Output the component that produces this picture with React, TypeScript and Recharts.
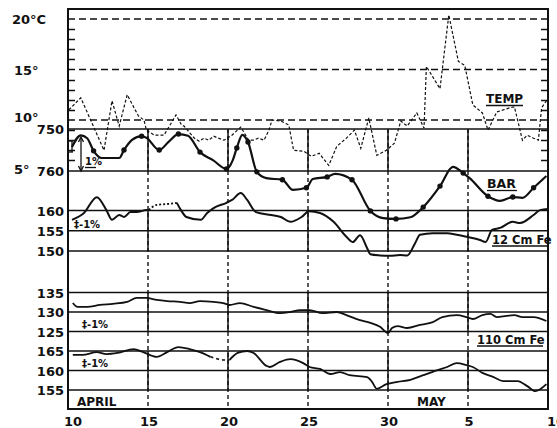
import React from "react";
import {
  ComposedChart,
  Line,
  Scatter,
  XAxis,
  YAxis,
  ReferenceLine,
  ReferenceArea,
} from "recharts";

// x = days counted from 10 April (0) to 10 May (30)
const xTicks = [0, 5, 10, 15, 20, 25, 30];
const xTickLabels = ["10", "15", "20", "25", "30", "5", "10"];
const gridDays = [5, 10, 15, 20, 25];

type Pt = [number, number | null];

// air temperature, deg C
const temp: Pt[] = [
  [0.05, 11.0], [0.8, 12.2], [2.25, 7.0], [2.75, 11.9], [3.2, 9.4], [3.7, 12.5],
  [4.4, 10.4], [4.75, 10.0], [4.9, 9.0], [5.4, 8.5], [6.0, 8.5], [6.75, 10.5],
  [7.1, 9.5], [7.25, 9.4], [7.9, 8.2], [8.2, 7.9], [8.5, 8.2], [8.8, 8.0],
  [9.1, 8.4], [9.4, 8.2], [9.75, 8.0], [10.25, 8.5], [10.8, 9.3], [11.1, 8.5],
  [11.3, 8.0], [11.6, 8.0], [11.9, 8.2], [12.25, 8.0], [12.56, 9.0], [12.75, 10.0],
  [13.3, 9.9], [13.8, 9.5], [14.1, 7.0], [14.75, 6.9], [15.2, 6.4], [15.7, 6.7],
  [16.3, 5.5], [16.8, 7.4], [17.4, 8.2], [17.9, 9.0], [18.3, 7.2], [18.8, 10.2],
  [19.3, 6.5], [19.9, 7.0], [20.4, 7.7], [20.8, 9.9], [21.2, 9.4], [21.8, 10.7],
  [22.25, 9.2], [22.4, 15.3], [23.25, 13.1], [23.8, 20.4], [24.4, 15.8], [24.8, 15.4],
  [25.3, 11.5], [25.9, 10.7], [26.25, 9.0], [26.8, 10.8], [27.6, 11.2], [27.9, 11.3],
  [28.1, 10.0], [28.4, 8.0], [28.7, 8.5], [29.1, 8.2], [29.4, 8.0], [29.6, 11.2],
  [29.9, 11.9],
];

// barometer, mm (750 at top, 760 below)
const bar: Pt[] = [
  [0.25, 754.3], [0.8, 751.5], [1.2, 752.2], [1.6, 755.2], [2.1, 756.9], [2.8, 756.9],
  [3.2, 756.9], [3.5, 755.0], [4.0, 752.6], [4.6, 751.7], [4.9, 752.1], [5.7, 755.0],
  [6.3, 753.0], [6.9, 751.2], [7.5, 751.6], [8.25, 755.5], [9.06, 757.4], [9.9, 759.5],
  [10.3, 757.4], [10.55, 754.5], [10.9, 751.4], [11.25, 753.1], [11.8, 760.2], [12.4, 761.7],
  [13.4, 762.1], [14.06, 764.5], [14.9, 764.0], [15.3, 761.9], [16.2, 761.4], [16.7, 760.7],
  [17.75, 762.1], [18.9, 769.5], [19.7, 771.2], [20.5, 771.4], [21.4, 771.0], [22.2, 768.6],
  [23.25, 763.6], [24.06, 759.0], [24.7, 760.5], [25.1, 761.7], [26.25, 766.0], [27.0, 767.1],
  [27.8, 766.2], [28.4, 766.4], [29.1, 764.0], [29.9, 761.2],
];
const barDotDays = [
  1.6, 3.5, 4.6, 5.7, 6.9, 8.25, 9.9, 10.55, 11.25, 11.8, 13.4, 14.9, 16.2, 17.75,
  18.9, 20.5, 22.2, 23.25, 24.7, 26.25, 27.8, 29.1,
];

// 12 cm Fe counter
const fe12: Pt[] = [
  [0.25, 157.7], [1.0, 159.4], [1.8, 163.3], [2.4, 160.1], [2.75, 157.7], [3.2, 158.9],
  [3.5, 158.4], [3.9, 159.6], [4.3, 159.6], [4.9, 160.1], [5.05, 160.1], [6.0, null],
  [6.8, 161.9], [7.06, 160.1], [7.4, 158.4], [8.3, 157.7], [8.7, 159.4], [9.1, 160.6],
  [9.9, 161.9], [10.25, 162.6], [10.8, 164.3], [11.2, 162.6], [11.75, 159.6], [12.7, 158.9],
  [13.3, 158.4], [13.9, 157.2], [14.6, 158.4], [15.06, 159.8], [15.75, 159.4], [16.6, 157.2],
  [17.4, 153.5], [17.8, 152.2], [18.25, 153.9], [18.7, 150.7], [18.9, 149.2], [19.5, 148.9],
  [20.1, 148.8], [20.75, 149.0], [21.2, 148.9], [21.7, 152.0], [22.0, 154.0], [22.8, 154.4],
  [23.7, 154.4], [24.3, 154.0], [24.9, 153.5], [25.75, 152.7], [26.1, 152.2], [26.5, 155.2],
  [27.0, 155.7], [27.8, 157.2], [28.25, 156.9], [29.1, 158.9], [29.5, 160.1], [30.0, 160.4],
];
const fe12Gap: Pt[] = [[5.05, 160.1], [5.55, 161.4], [6.2, 161.6], [6.8, 161.9]];

// 110 cm Fe counter
const fe110: Pt[] = [
  [0.3, 132.3], [0.6, 131.3], [1.2, 131.3], [2.0, 131.8], [2.8, 132.1], [3.7, 132.6],
  [4.3, 133.6], [4.9, 133.6], [5.55, 133.1], [6.2, 132.8], [7.0, 132.6], [7.6, 132.3],
  [8.25, 132.8], [9.1, 132.6], [9.7, 132.3], [10.1, 131.8], [10.75, 132.3], [11.6, 131.3],
  [12.4, 130.5], [13.25, 129.7], [13.9, 130.0], [14.5, 130.5], [15.1, 130.5], [15.9, 129.7],
  [16.8, 130.0], [17.4, 129.2], [18.25, 127.9], [18.9, 127.2], [19.5, 126.2], [20.0, 124.6],
  [20.25, 125.9], [20.6, 126.4], [21.2, 125.9], [22.0, 126.7], [22.8, 127.4], [23.4, 128.7],
  [24.3, 129.2], [24.9, 128.7], [25.3, 128.2], [25.9, 129.2], [26.4, 129.5], [26.8, 128.7],
  [27.4, 129.0], [27.9, 129.2], [28.4, 128.7], [29.1, 128.7], [29.9, 127.7],
];

// lowest trace
const low: Pt[] = [
  [0.3, 164.0], [0.9, 164.0], [1.8, 164.7], [2.4, 164.2], [3.1, 164.5], [4.1, 165.5],
  [4.7, 164.7], [5.55, 163.5], [6.2, 164.7], [6.9, 166.0], [7.6, 165.5], [8.25, 164.7],
  [8.9, 163.5], [9.4, null], [10.1, 162.7], [10.6, 164.5], [11.2, 165.0], [11.6, 164.5],
  [12.4, 161.2], [12.6, 160.9], [13.25, 162.2], [13.9, 162.9], [14.7, 161.9], [15.1, 160.9],
  [15.75, 160.4], [16.4, 159.1], [17.0, 159.6], [17.6, 158.8], [18.7, 158.3], [19.0, 157.1],
  [19.3, 155.3], [19.9, 156.5], [20.6, 157.1], [21.4, 157.6], [22.2, 158.8], [23.1, 160.1],
  [23.7, 160.9], [24.3, 161.9], [24.9, 161.4], [25.3, 160.9], [25.9, 159.4], [26.6, 158.3],
  [27.2, 157.3], [28.1, 157.3], [28.7, 156.0], [29.2, 154.7], [29.9, 156.5],
];
const lowGap: Pt[] = [[8.9, 163.5], [9.3, 163.0], [9.7, 162.7], [10.1, 162.7]];

const rows = (pts: Pt[], key: string) => pts.map(([day, v]) => ({ day, [key]: v }));

// chart frame (pixels)
const W = 557;
const H = 428;
const TOP = 9;
const BOTTOM = 409;
const LEFT = 68;
const RIGHT = 548;
const INK = "#111";
const FONT = "DejaVu Sans";

// each panel is calibrated by one value, its pixel row and pixels per unit
const span = (ref: number, refY: number, px: number): [number, number] => [
  ref - (BOTTOM - refY) / px,
  ref + (refY - TOP) / px,
];
const tempDomain = span(10, 120, 10.1);
const barDomain: [number, number] = [750 - (129 - TOP) / 4.2, 750 + (BOTTOM - 129) / 4.2];
const fe12Domain = span(160, 210.5, 4.05);
const fe110Domain = span(130, 312, 3.9);
const lowDomain = span(165, 351, 3.9);

const tempLabelTicks = [5, 10, 15, 20];
const tempMinorTicks = [6, 7, 8, 9, 11, 12, 13, 14, 16, 17, 18, 19];
const tempLabels: Record<number, string> = { 20: "20°C", 15: "15°", 10: "10°", 5: "5°" };
// same linear map as the temp axis, used for the small degree marks on the frame
const tempY = (t: number) =>
  Math.round(TOP + ((tempDomain[1] - t) / (tempDomain[1] - tempDomain[0])) * (BOTTOM - TOP)) + 0.5;

const txt = { fontFamily: FONT, fontWeight: 700, fill: INK } as const;

const TempTick = (props: any) => {
  const { y, payload } = props;
  const v = payload.value as number;
  const shift = v === 10 ? -3 : v === 5 ? -2 : 0;
  return (
    <text x={v === 20 ? 12 : 14} y={y + 5 + shift} fontSize={13} {...txt}>
      {tempLabels[v]}
    </text>
  );
};

const PanelTick = (props: any) => (
  <text x={64} y={props.y + 5} textAnchor="end" fontSize={13} {...txt}>
    {props.payload.value}
  </text>
);

const DayTick = (props: any) => {
  const { x, payload } = props;
  const i = xTicks.indexOf(payload.value);
  const first = i === 0;
  const last = i === xTicks.length - 1;
  return (
    <text
      x={first ? x + 5 : last ? x - 1 : x + 1}
      y={426}
      textAnchor={last ? "start" : "middle"}
      fontSize={13}
      {...txt}
    >
      {xTickLabels[i]}
    </text>
  );
};

const Underlined = ({ x, y, w, size, children }: any) => (
  <g>
    <text x={x} y={y} fontSize={size} {...txt}>
      {children}
    </text>
    <line x1={x} x2={x + w} y1={y + 2.5} y2={y + 2.5} stroke={INK} strokeWidth={1.3} />
  </g>
);

const Annotations = () => (
  <g>
    {tempMinorTicks.map((t) => (
      <path
        key={t}
        d={`M${LEFT} ${tempY(t)}h7M${RIGHT - 7} ${tempY(t)}h7`}
        stroke={INK}
        strokeWidth={1.6}
        fill="none"
      />
    ))}
    <Underlined x={486} y={103} w={37} size={12}>TEMP</Underlined>
    <Underlined x={487} y={188} w={30} size={12.5}>BAR</Underlined>
    <Underlined x={492} y={243.5} w={57} size={11.5}>12 Cm Fe</Underlined>
    <Underlined x={477} y={343.5} w={66} size={11.5}>110 Cm Fe</Underlined>
    <text x={77} y={406} fontSize={12} {...txt}>APRIL</text>
    <text x={417} y={406} fontSize={12} {...txt}>MAY</text>
    <text x={74} y={228} fontSize={10} {...txt}>‡-1%</text>
    <text x={82} y={328} fontSize={10} {...txt}>‡-1%</text>
    <text x={82} y={367} fontSize={10} {...txt}>‡-1%</text>
    {/* 1% bracket on the barometer panel */}
    <g stroke={INK} strokeWidth={1.3} fill="none">
      <line x1={81} x2={81} y1={138} y2={170} />
      <polyline points="78.5,142 81,137 83.5,142" />
      <polyline points="78.5,166 81,171 83.5,166" />
      <line x1={68} x2={73} y1={141} y2={141} />
      <line x1={72} x2={72} y1={141} y2={152} />
      <line x1={68} x2={73} y1={152} y2={152} />
      <line x1={85} x2={96} y1={167.5} y2={167.5} />
    </g>
    <text x={85} y={165} fontSize={10} {...txt}>1%</text>
  </g>
);

const panelLines: { id: string; values: number[] }[] = [
  { id: "bar", values: [750, 760] },
  { id: "fe12", values: [160, 155, 150] },
  { id: "fe110", values: [135, 130, 125] },
  { id: "low", values: [165, 160, 155] },
];

const solidBands: { id: string; from: number; to: number }[] = [
  { id: "bar", from: 750, to: 760 },
  { id: "fe12", from: 160, to: 150 },
  { id: "fe110", from: 135, to: 125 },
  { id: "low", from: 165, to: 155 },
];

// a YAxis with zero width is not drawn, so each one gets a single pixel
const axisW = 1;

export default function App() {
  const barDots = bar.filter(([d]) => barDotDays.includes(d));
  return (
    <div style={{ position: "absolute", left: 0, top: 0, background: "#fff" }}>
      <ComposedChart
        width={W}
        height={H}
        margin={{ top: TOP, right: W - RIGHT, bottom: 0, left: LEFT - 5 * axisW }}
      >
        <XAxis
          dataKey="day"
          type="number"
          domain={[0, 30]}
          allowDataOverflow
          ticks={xTicks}
          interval={0}
          height={H - BOTTOM}
          axisLine={false}
          tickLine={false}
          tick={<DayTick />}
        />
        <YAxis yAxisId="temp" domain={tempDomain} allowDataOverflow width={axisW} axisLine={false}
          tickLine={false} ticks={tempLabelTicks} interval={0} tick={<TempTick />} />
        <YAxis yAxisId="bar" reversed domain={barDomain} allowDataOverflow width={axisW} axisLine={false}
          tickLine={false} ticks={[750, 760]} interval={0} tick={<PanelTick />} />
        <YAxis yAxisId="fe12" domain={fe12Domain} allowDataOverflow width={axisW} axisLine={false}
          tickLine={false} ticks={[160, 155, 150]} interval={0} tick={<PanelTick />} />
        <YAxis yAxisId="fe110" domain={fe110Domain} allowDataOverflow width={axisW} axisLine={false}
          tickLine={false} ticks={[135, 130, 125]} interval={0} tick={<PanelTick />} />
        <YAxis yAxisId="low" domain={lowDomain} allowDataOverflow width={axisW} axisLine={false}
          tickLine={false} ticks={[165, 160, 155]} interval={0} tick={<PanelTick />} />

        {[10, 15, 20].map((t) => (
          <ReferenceLine key={`t${t}`} yAxisId="temp" y={t} stroke={INK} strokeWidth={1.6} strokeDasharray="7 4" />
        ))}
        {panelLines.flatMap((p) =>
          p.values.map((v) => (
            <ReferenceLine key={`${p.id}${v}`} yAxisId={p.id} y={v} stroke={INK} strokeWidth={1.5} />
          )),
        )}
        {gridDays.map((d) => (
          <ReferenceLine
            key={`v${d}`}
            yAxisId="bar"
            ifOverflow="visible"
            segment={[{ x: d, y: 750 }, { x: d, y: barDomain[1] }]}
            stroke={INK}
            strokeWidth={1.4}
            strokeDasharray="4 3"
          />
        ))}
        {gridDays.flatMap((d) =>
          solidBands.map((b) => (
            <ReferenceLine
              key={`s${d}${b.id}`}
              yAxisId={b.id}
              ifOverflow="visible"
              segment={[{ x: d, y: b.from }, { x: d, y: b.to }]}
              stroke={INK}
              strokeWidth={1.5}
            />
          )),
        )}
        <ReferenceArea
          yAxisId="temp"
          x1={0}
          x2={30}
          y1={tempDomain[0]}
          y2={tempDomain[1]}
          ifOverflow="visible"
          fill="none"
          fillOpacity={0}
          stroke={INK}
          strokeWidth={2}
        />

        <Line data={rows(temp, "temp")} dataKey="temp" yAxisId="temp" type="linear" stroke={INK}
          strokeWidth={1.2} strokeDasharray="3 2" dot={false} isAnimationActive={false} />
        <Line data={rows(bar, "bar")} dataKey="bar" yAxisId="bar" type="monotone" stroke={INK}
          strokeWidth={2.2} dot={false} isAnimationActive={false} />
        <Scatter data={rows(barDots, "bar")} dataKey="bar" yAxisId="bar" fill={INK}
          shape={(p: any) => <circle cx={p.cx} cy={p.cy} r={2.7} fill={INK} />} isAnimationActive={false} />
        <Line data={rows(fe12, "fe12")} dataKey="fe12" yAxisId="fe12" type="monotone" stroke={INK}
          strokeWidth={2} dot={false} isAnimationActive={false} />
        <Line data={rows(fe12Gap, "fe12")} dataKey="fe12" yAxisId="fe12" type="monotone" stroke={INK}
          strokeWidth={1.8} strokeDasharray="2 2" dot={false} isAnimationActive={false} />
        <Line data={rows(fe110, "fe110")} dataKey="fe110" yAxisId="fe110" type="monotone" stroke={INK}
          strokeWidth={1.8} dot={false} isAnimationActive={false} />
        <Line data={rows(low, "low")} dataKey="low" yAxisId="low" type="monotone" stroke={INK}
          strokeWidth={1.8} dot={false} isAnimationActive={false} />
        <Line data={rows(lowGap, "low")} dataKey="low" yAxisId="low" type="monotone" stroke={INK}
          strokeWidth={1.6} strokeDasharray="3 3" dot={false} isAnimationActive={false} />

        <Annotations />
      </ComposedChart>
    </div>
  );
}
